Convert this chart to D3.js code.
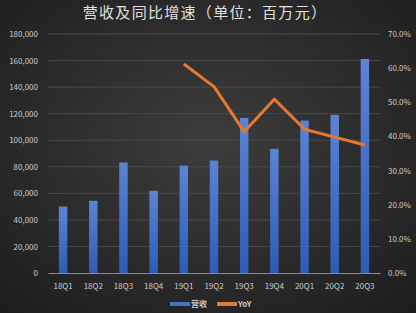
<!DOCTYPE html>
<html>
<head>
<meta charset="utf-8">
<script src="https://cdn.jsdelivr.net/npm/d3@7"></script>
<style>
  html, body { margin: 0; padding: 0; background: #262626; }
  svg { display: block; }
</style>
</head>
<body>
<svg id="chart" width="416" height="313"></svg>
<script>
// data
const quarters = ["18Q1", "18Q2", "18Q3", "18Q4", "19Q1", "19Q2", "19Q3", "19Q4", "20Q1", "20Q2", "20Q3"];
const revenue = [50100, 54400, 83200, 61900, 80900, 84700, 116800, 93500, 114800, 119100, 161200];
const yoyQuarters = ["19Q1", "19Q2", "19Q3", "19Q4", "20Q1", "20Q2", "20Q3"];
const yoy = [0.612, 0.546, 0.414, 0.509, 0.421, 0.398, 0.375];
const leftTicks = [0, 20000, 40000, 60000, 80000, 100000, 120000, 140000, 160000, 180000];
const rightTicks = [0, 0.1, 0.2, 0.3, 0.4, 0.5, 0.6, 0.7];

const W = 416, H = 313;
const margin = {top: 34, right: 36, bottom: 40, left: 48};
const font = "'Noto Sans CJK SC', 'Noto Sans', sans-serif";

const svg = d3.select("#chart");
const defs = svg.append("defs");

// dark vignette background
const bg = defs.append("radialGradient").attr("id", "bg")
	.attr("cx", "50%").attr("cy", "45%").attr("r", "75%");
bg.append("stop").attr("offset", "0%").attr("stop-color", "#3d3d3d");
bg.append("stop").attr("offset", "100%").attr("stop-color", "#1c1c1c");

const barGrad = defs.append("linearGradient").attr("id", "barGrad")
	.attr("x1", "0%").attr("y1", "0%").attr("x2", "0%").attr("y2", "100%");
barGrad.append("stop").attr("offset", "0%").attr("stop-color", "#5b84d6");
barGrad.append("stop").attr("offset", "100%").attr("stop-color", "#2f5bb8");

svg.append("rect").attr("width", W).attr("height", H).attr("fill", "url(#bg)");

const x = d3.scaleBand()
	.domain(quarters)
	.range([margin.left, W - margin.right])
	.paddingInner(0.72)
	.paddingOuter(0.36);

const yL = d3.scaleLinear().domain([0, 180000]).range([H - margin.bottom, margin.top]);
const yR = d3.scaleLinear().domain([0, 0.7]).range([H - margin.bottom, margin.top]);

// gridlines
svg.append("g")
	.selectAll("line")
	.data(leftTicks.slice(1))
	.join("line")
	.attr("x1", margin.left).attr("x2", W - margin.right)
	.attr("y1", d => yL(d)).attr("y2", d => yL(d))
	.attr("stroke", "#4a4a4a").attr("stroke-width", 1);

// left axis
const axL = svg.append("g")
	.attr("transform", `translate(${margin.left},0)`)
	.call(d3.axisLeft(yL).tickValues(leftTicks).tickSize(0).tickPadding(10)
		.tickFormat(d3.format(",")));
axL.select(".domain").remove();

// right axis
const axR = svg.append("g")
	.attr("transform", `translate(${W - margin.right},0)`)
	.call(d3.axisRight(yR).tickValues(rightTicks).tickSize(0).tickPadding(8)
		.tickFormat(d3.format(".1%")));
axR.select(".domain").remove();

// bottom axis
const axB = svg.append("g")
	.attr("transform", `translate(0,${H - margin.bottom})`)
	.call(d3.axisBottom(x).tickSize(0).tickPadding(10));
axB.select(".domain").attr("stroke", "#8a8a8a").attr("stroke-width", 1);

svg.selectAll(".tick text")
	.attr("fill", "#cccccc")
	.style("font-family", font)
	.style("font-size", "8px");

// bars
svg.append("g")
	.selectAll("rect")
	.data(quarters.map((q, i) => ({q, v: revenue[i]})))
	.join("rect")
	.attr("x", d => x(d.q))
	.attr("width", x.bandwidth())
	.attr("y", d => yL(d.v))
	.attr("height", d => yL(0) - yL(d.v))
	.attr("fill", "url(#barGrad)");

// YoY line
const line = d3.line()
	.x(d => x(d.q) + x.bandwidth() / 2)
	.y(d => yR(d.v));

svg.append("path")
	.datum(yoyQuarters.map((q, i) => ({q, v: yoy[i]})))
	.attr("d", line)
	.attr("fill", "none")
	.attr("stroke", "#e8782c")
	.attr("stroke-width", 3)
	.attr("stroke-linejoin", "round");

// title
svg.append("text")
	.attr("x", 205).attr("y", 18)
	.attr("text-anchor", "middle")
	.attr("fill", "#e0e0e0")
	.style("font-family", font)
	.style("font-size", "15px")
	.style("letter-spacing", "1.3px")
	.text("营收及同比增速（单位：百万元）");

// legend
const legend = svg.append("g").attr("transform", "translate(170,304)");
const items = [{label: "营收", color: "#4472c4"}, {label: "YoY", color: "#e8782c"}];
const li = legend.selectAll("g").data(items).join("g")
	.attr("transform", (d, i) => `translate(${i * 47},0)`);
li.append("line")
	.attr("x1", 0).attr("x2", 20)
	.attr("stroke", d => d.color).attr("stroke-width", 4);
li.append("text")
	.attr("x", 21).attr("y", 3)
	.attr("fill", "#cccccc")
	.style("font-family", font)
	.style("font-size", "8px")
	.style("font-weight", "bold")
	.text(d => d.label);
</script>
</body>
</html>
